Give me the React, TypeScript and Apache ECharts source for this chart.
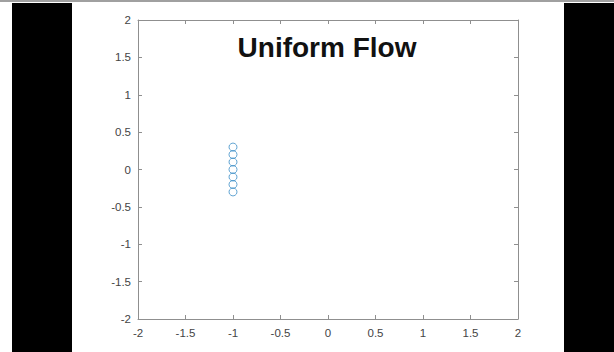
import React, { useEffect, useRef } from "react";
import * as echarts from "echarts";

const titleText = "Uniform Flow";
const xPoints = [-1, -1, -1, -1, -1, -1, -1];
const yPoints = [0.3, 0.2, 0.1, 0, -0.1, -0.2, -0.3];
const axisMin = -2;
const axisMax = 2;
const axisStep = 0.5;

export default function App() {
  const ref = useRef<HTMLDivElement>(null);
  useEffect(() => {
    if (!ref.current) return;
    const chart = echarts.init(ref.current, null, { renderer: "svg" });
    const axisColor = "#8f8f8f";
    const labelColor = "#444444";
    const font = "Liberation Sans";
    const baseAxis = {
      type: "value",
      min: axisMin,
      max: axisMax,
      interval: axisStep,
      splitLine: { show: false },
      axisLine: { show: true, onZero: false, lineStyle: { color: axisColor, width: 1 } },
      axisTick: { show: true, inside: true, length: 4, lineStyle: { color: axisColor } },
    };
    chart.setOption({
      animation: false,
      backgroundColor: "#ffffff",
      grid: { left: 138, top: 20, width: 380, height: 299, containLabel: false },
      xAxis: [
        {
          ...baseAxis,
          position: "bottom",
          axisLabel: { color: labelColor, fontFamily: font, fontSize: 11.5, margin: 8 },
        },
        {
          ...baseAxis,
          position: "top",
          axisLabel: { show: false },
        },
      ],
      yAxis: [
        {
          ...baseAxis,
          position: "left",
          axisLabel: { color: labelColor, fontFamily: font, fontSize: 11.5, margin: 7 },
        },
        {
          ...baseAxis,
          position: "right",
          axisLabel: { show: false },
        },
      ],
      series: [
        {
          type: "scatter",
          xAxisIndex: 0,
          yAxisIndex: 0,
          symbol: "circle",
          symbolSize: 8,
          itemStyle: { color: "rgba(0,0,0,0)", borderColor: "#3f90c8", borderWidth: 1 },
          data: xPoints.map((x, i) => [x, yPoints[i]]),
        },
      ],
      graphic: [
        { type: "rect", shape: { x: 0, y: 0, width: 614, height: 2 }, style: { fill: "#a0a0a0" } },
        { type: "rect", shape: { x: 12, y: 3, width: 60, height: 349 }, style: { fill: "#000000" } },
        { type: "rect", shape: { x: 564, y: 3, width: 50, height: 349 }, style: { fill: "#000000" } },
        {
          type: "text",
          x: 327,
          y: 47,
          style: {
            text: titleText,
            fill: "#111111",
            font: "bold 28px 'Liberation Sans'",
            textAlign: "center",
            textVerticalAlign: "middle",
          },
        },
      ],
    });
    return () => chart.dispose();
  }, []);
  return (
    <div
      ref={ref}
      style={{ position: "absolute", left: 0, top: 0, width: 614, height: 352 }}
    />
  );
}
